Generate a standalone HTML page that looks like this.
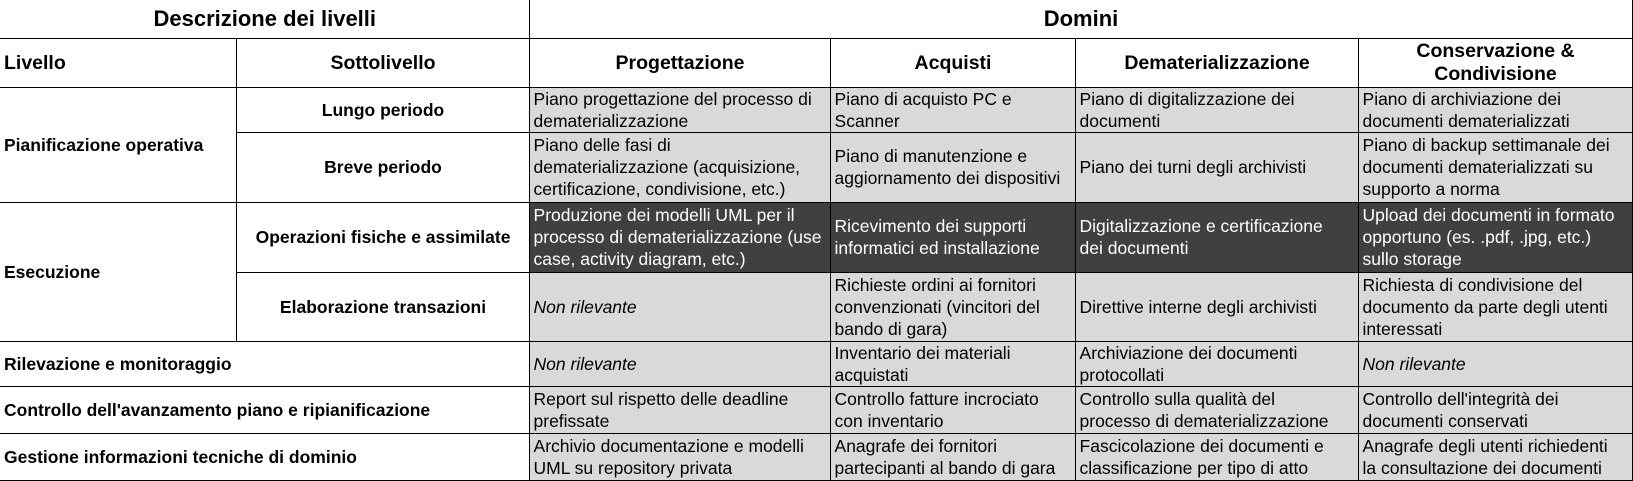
<!DOCTYPE html>
<html><head><meta charset="utf-8"><style>
body{margin:0;width:1633px;height:481px;background:#fff;overflow:hidden;font-family:"Liberation Sans",Arial,sans-serif;}
table{border-collapse:collapse;table-layout:fixed;position:absolute;left:0;top:0;width:1632px;}
td{border:1px solid #000;padding:0 3px 0 4px;font-size:17.5px;line-height:22px;white-space:nowrap;overflow:hidden;vertical-align:middle;color:#000;}
.t{font-weight:bold;font-size:22px;text-align:center;}
.h{font-weight:bold;font-size:19.5px;text-align:center;}
.hl{font-weight:bold;font-size:19.5px;text-align:left;}
.b{font-weight:bold;}
.c{text-align:center;}
.g{background:#d9d9d9;}
.d{background:#404040;color:#fff;}
i{font-style:italic;}
</style></head><body>
<table>
<colgroup><col style="width:236px"><col style="width:293px"><col style="width:301px"><col style="width:245px"><col style="width:283px"><col style="width:274px"></colgroup>
<tr style="height:38px"><td colspan="2" class="t" style="border-top:none;border-left:none">Descrizione dei livelli</td><td colspan="4" class="t" style="border-top:none">Domini</td></tr>
<tr style="height:49px"><td class="hl" style="border-left:none">Livello</td><td class="h">Sottolivello</td><td class="h">Progettazione</td><td class="h">Acquisti</td><td class="h">Dematerializzazione</td><td class="h" style="line-height:23px">Conservazione &amp;<br>Condivisione</td></tr>
<tr style="height:44px"><td rowspan="2" class="b" style="border-left:none">Pianificazione operativa</td><td class="b c">Lungo periodo</td><td class="g">Piano progettazione del processo di<br>dematerializzazione</td><td class="g">Piano di acquisto PC e<br>Scanner</td><td class="g">Piano di digitalizzazione dei<br>documenti</td><td class="g">Piano di archiviazione dei<br>documenti dematerializzati</td></tr>
<tr style="height:70px"><td class="b c">Breve periodo</td><td class="g">Piano delle fasi di<br>dematerializzazione (acquisizione,<br>certificazione, condivisione, etc.)</td><td class="g">Piano di manutenzione e<br>aggiornamento dei dispositivi</td><td class="g">Piano dei turni degli archivisti</td><td class="g">Piano di backup settimanale dei<br>documenti dematerializzati su<br>supporto a norma</td></tr>
<tr style="height:70px"><td rowspan="2" class="b" style="border-left:none">Esecuzione</td><td class="b c">Operazioni fisiche e assimilate</td><td class="d">Produzione dei modelli UML per il<br>processo di dematerializzazione (use<br>case, activity diagram, etc.)</td><td class="d">Ricevimento dei supporti<br>informatici ed installazione</td><td class="d">Digitalizzazione e certificazione<br>dei documenti</td><td class="d">Upload dei documenti in formato<br>opportuno (es. .pdf, .jpg, etc.)<br>sullo storage</td></tr>
<tr style="height:69px"><td class="b c">Elaborazione transazioni</td><td class="g"><i>Non rilevante</i></td><td class="g">Richieste ordini ai fornitori<br>convenzionati (vincitori del<br>bando di gara)</td><td class="g">Direttive interne degli archivisti</td><td class="g">Richiesta di condivisione del<br>documento da parte degli utenti<br>interessati</td></tr>
<tr style="height:45px"><td colspan="2" class="b" style="border-left:none">Rilevazione e monitoraggio</td><td class="g"><i>Non rilevante</i></td><td class="g">Inventario dei materiali<br>acquistati</td><td class="g">Archiviazione dei documenti<br>protocollati</td><td class="g"><i>Non rilevante</i></td></tr>
<tr style="height:47px"><td colspan="2" class="b" style="border-left:none">Controllo dell'avanzamento piano e ripianificazione</td><td class="g">Report sul rispetto delle deadline<br>prefissate</td><td class="g">Controllo fatture incrociato<br>con inventario</td><td class="g">Controllo sulla qualità del<br>processo di dematerializzazione</td><td class="g">Controllo dell'integrità dei<br>documenti conservati</td></tr>
<tr style="height:47px"><td colspan="2" class="b" style="border-left:none">Gestione informazioni tecniche di dominio</td><td class="g">Archivio documentazione e modelli<br>UML su repository privata</td><td class="g">Anagrafe dei fornitori<br>partecipanti al bando di gara</td><td class="g">Fascicolazione dei documenti e<br>classificazione per tipo di atto</td><td class="g">Anagrafe degli utenti richiedenti<br>la consultazione dei documenti</td></tr>
</table>
</body></html>
